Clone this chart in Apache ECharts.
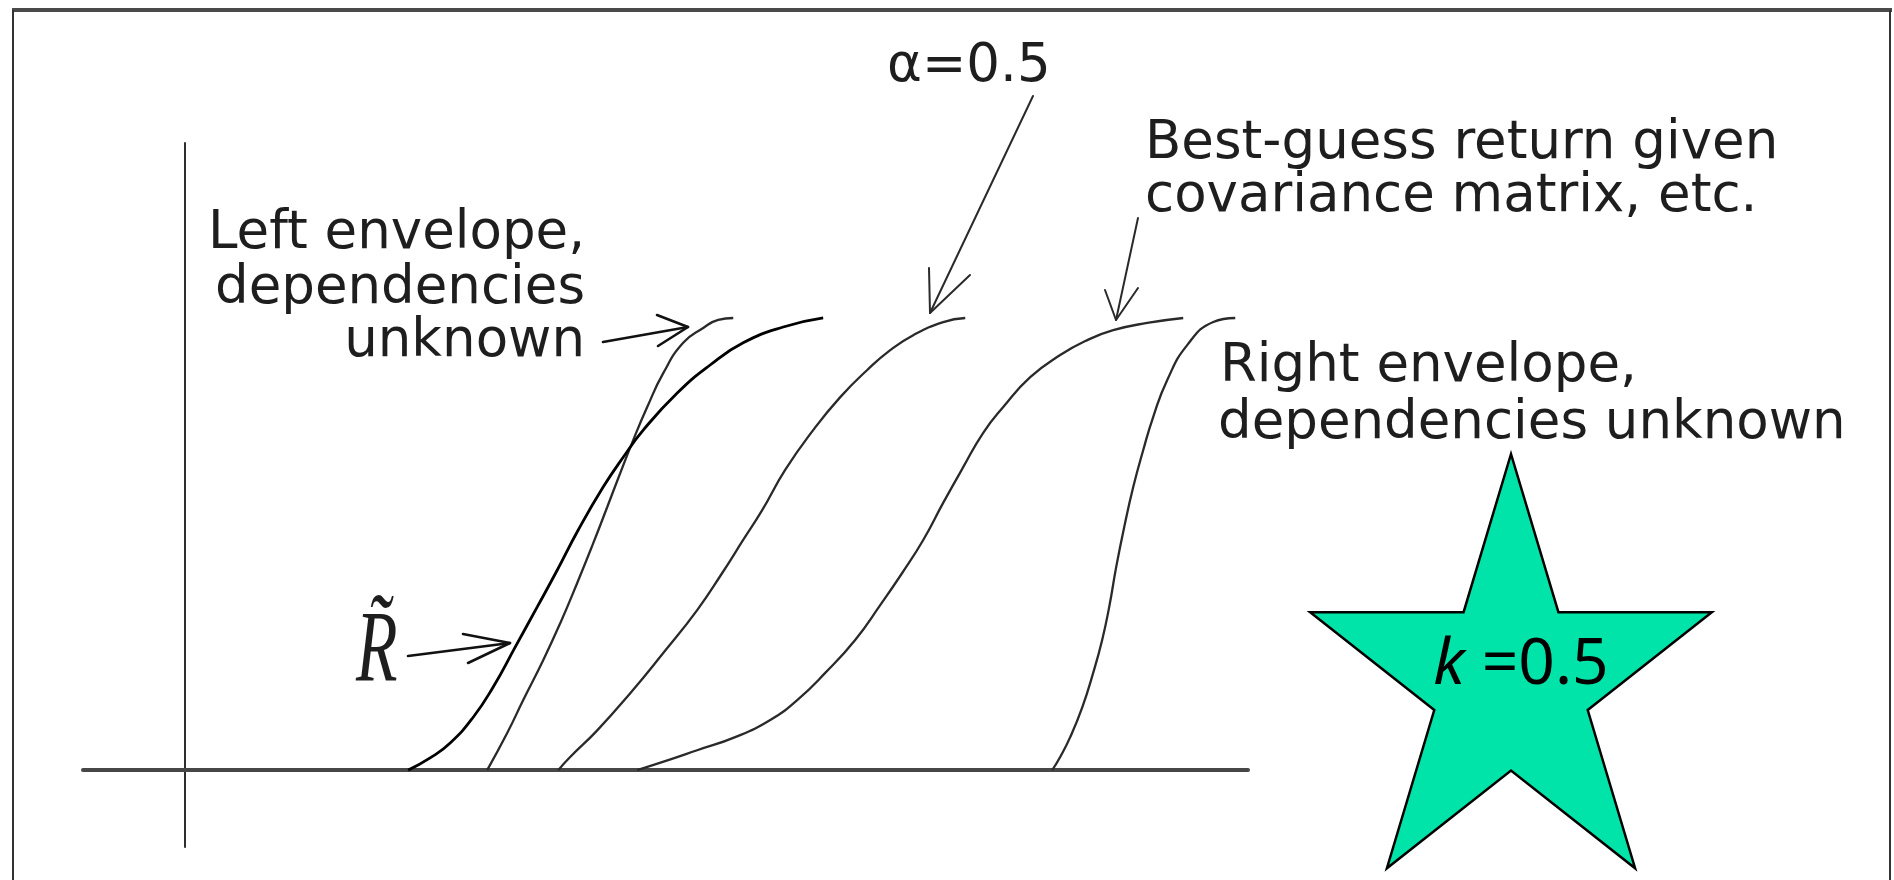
<!DOCTYPE html>
<html>
<head>
<meta charset="utf-8">
<title>Return distributions and envelopes</title>
<script src="https://cdn.jsdelivr.net/npm/echarts@6/dist/echarts.min.js"></script>
<style>
  html, body { margin: 0; padding: 0; background: #fff; }
  #chart { width: 1894px; height: 880px; }
</style>
</head>
<body>
<div id="chart"></div>
<script>
// Cumulative return curves: [return, cumulative probability]
const rTilde = [
  [21.82, 0], [23.97, 0.027], [25.93, 0.060], [28.18, 0.117], [30.14, 0.184],
  [32.29, 0.272], [34.45, 0.361], [36.40, 0.442], [38.46, 0.531], [40.90, 0.626],
  [42.86, 0.692], [44.82, 0.752], [48.15, 0.834], [51.37, 0.896], [54.60, 0.945],
  [58.52, 0.980], [62.43, 1.0]
];
const leftEnvelope = [
  [29.55, 0], [31.51, 0.082], [33.08, 0.155], [35.03, 0.243], [36.70, 0.325],
  [38.36, 0.414], [39.93, 0.502], [41.30, 0.582], [42.57, 0.657], [43.84, 0.730],
  [45.21, 0.803], [46.78, 0.878], [48.73, 0.945], [50.69, 0.978], [52.16, 0.996],
  [53.63, 1.0]
];
const alphaHalf = [
  [36.50, 0], [37.67, 0.029], [40.32, 0.088], [43.55, 0.170], [46.78, 0.259],
  [50.10, 0.354], [52.55, 0.436], [54.60, 0.509], [56.46, 0.575], [58.71, 0.664],
  [61.45, 0.752], [64.10, 0.825], [66.74, 0.885], [68.99, 0.929], [71.24, 0.962],
  [74.18, 0.991], [76.33, 1.0]
];
const bestGuess = [
  [44.23, 0], [47.26, 0.022], [50.10, 0.044], [53.82, 0.073], [57.25, 0.111],
  [59.89, 0.155], [62.63, 0.215], [65.56, 0.288], [68.01, 0.365], [70.16, 0.436],
  [72.22, 0.509], [74.17, 0.591], [76.13, 0.670], [78.09, 0.746], [80.05, 0.803],
  [82.69, 0.869], [85.62, 0.918], [88.27, 0.951], [90.81, 0.973], [94.14, 0.989],
  [97.66, 1.0]
];
const rightEnvelope = [
  [84.84, 0], [85.62, 0.029], [86.60, 0.073], [87.78, 0.139], [88.85, 0.215],
  [89.73, 0.288], [90.42, 0.361], [91.10, 0.449], [91.89, 0.538], [92.77, 0.626],
  [93.75, 0.708], [94.72, 0.781], [96.10, 0.863], [98.05, 0.940], [100.60, 0.991],
  [102.75, 1.0]
];

// Annotation texts
const leftLabel = ['Left envelope,', 'dependencies', 'unknown'];
const rightLabel = ['Right envelope,', 'dependencies unknown'];
const bestLabel = ['Best-guess return given', 'covariance matrix, etc.'];
const alphaLabel = '\u03b1=0.5';
const kLabel = { name: 'k', value: '=0.5' };

const FONT = '53px "DejaVu Sans"';
const INK = '#1e1e1e';

function label(text, x, baseline, align) {
  return {
    type: 'text', x: x, y: baseline - 16, z: 20,
    style: {
      text: text, font: FONT, fill: INK,
      align: align || 'left', textAlign: align || 'left',
      verticalAlign: 'middle', textVerticalAlign: 'middle'
    }
  };
}

// open V-headed arrow: shaft from start to tip, two barbs back from the tip
function arrow(start, tip, barbA, barbB, width, color) {
  const st = { stroke: color, lineWidth: width, fill: null, lineCap: 'round', lineJoin: 'round' };
  return [
    { type: 'polyline', z: 20, shape: { points: [start, tip] }, style: st },
    { type: 'polyline', z: 20, shape: { points: [barbA, tip, barbB] }, style: st }
  ];
}

// five-pointed star outline around a centre
function starPoints(cx, cy, outer, inner, sx) {
  const pts = [];
  for (let i = 0; i < 10; i++) {
    const a = -Math.PI / 2 + i * Math.PI / 5;
    const rad = i % 2 === 0 ? outer : inner;
    pts.push([cx + Math.cos(a) * rad * sx, cy + Math.sin(a) * rad]);
  }
  return pts;
}

const graphics = [
  // frame
  { type: 'line', z: 30, shape: { x1: 12, y1: 10, x2: 1892, y2: 10 }, style: { stroke: '#4a4a4a', lineWidth: 4 } },
  { type: 'line', z: 30, shape: { x1: 13, y1: 10, x2: 13, y2: 880 }, style: { stroke: '#333', lineWidth: 2 } },
  { type: 'line', z: 30, shape: { x1: 1890, y1: 10, x2: 1890, y2: 880 }, style: { stroke: '#333', lineWidth: 2 } },

  label(leftLabel[0], 585, 250, 'right'),
  label(leftLabel[1], 585, 305, 'right'),
  label(leftLabel[2], 585, 358, 'right'),
  label(rightLabel[0], 1220, 383),
  label(rightLabel[1], 1218, 440),
  label(bestLabel[0], 1145, 160),
  label(bestLabel[1], 1145, 213),
  label(alphaLabel, 887, 83),

  {
    type: 'text', x: 356, y: 705, z: 20, scaleX: 0.85, scaleY: 1.28,
    style: {
      text: 'R\u0303', font: 'italic 80px "Liberation Serif"', fill: INK,
      align: 'left', textAlign: 'left', verticalAlign: 'bottom', textVerticalAlign: 'bottom'
    }
  }
].concat(
  arrow([603, 342], [688, 327], [657, 315], [658, 346], 2.6, '#111'),
  arrow([408, 656], [510, 643], [463, 634], [468, 663], 2.6, '#111'),
  arrow([1033, 96], [930, 313], [929, 268], [970, 275], 2, '#2a2a2a'),
  arrow([1138, 218], [1116, 320], [1105, 290], [1138, 288], 2, '#2a2a2a'),
  [
    {
      type: 'polygon', z: 25,
      shape: { points: starPoints(1511, 683, 229, 87.5, 0.922) },
      style: { fill: '#00e4a9', stroke: '#000', lineWidth: 2.5, lineJoin: 'miter' }
    },
    {
      type: 'text', x: 1521, y: 666, z: 26,
      style: {
        text: '{k|' + kLabel.name + '} {v|' + kLabel.value + '}',
        align: 'center', textAlign: 'center', verticalAlign: 'middle', textVerticalAlign: 'middle',
        rich: {
          k: { font: 'italic 64px "Noto Sans"', fill: '#000' },
          v: { font: '64px "Noto Sans"', fill: '#000' }
        },
        font: '64px "Noto Sans"', fill: '#000'
      }
    }
  ]
);

function curve(name, data, color, width, z) {
  return {
    name: name, type: 'line', data: data, z: z,
    showSymbol: false, smooth: 0.5,
    lineStyle: { color: color, width: width },
    silent: true, animation: false
  };
}

const chart = echarts.init(document.getElementById('chart'), null, { renderer: 'canvas' });
chart.setOption({
  backgroundColor: '#ffffff',
  animation: false,
  grid: { left: 83, right: 646, top: 143, bottom: 33 },
  xAxis: {
    type: 'value', min: -10, max: 104,
    axisLine: { show: true, onZero: true, lineStyle: { color: '#474747', width: 4 } },
    axisTick: { show: false }, axisLabel: { show: false }, splitLine: { show: false }
  },
  yAxis: {
    type: 'value', min: -0.17, max: 1.387,
    axisLine: { show: true, onZero: true, lineStyle: { color: '#2e2e2e', width: 2 } },
    axisTick: { show: false }, axisLabel: { show: false }, splitLine: { show: false }
  },
  series: [
    curve('Left envelope', leftEnvelope, '#2a2a2a', 2.3, 2),
    curve('\u03b1=0.5', alphaHalf, '#2a2a2a', 2.3, 2),
    curve('Best guess', bestGuess, '#2a2a2a', 2.3, 2),
    curve('Right envelope', rightEnvelope, '#2a2a2a', 2.3, 2),
    curve('R\u0303', rTilde, '#000000', 2.8, 3)
  ],
  graphic: graphics
});
</script>
</body>
</html>
